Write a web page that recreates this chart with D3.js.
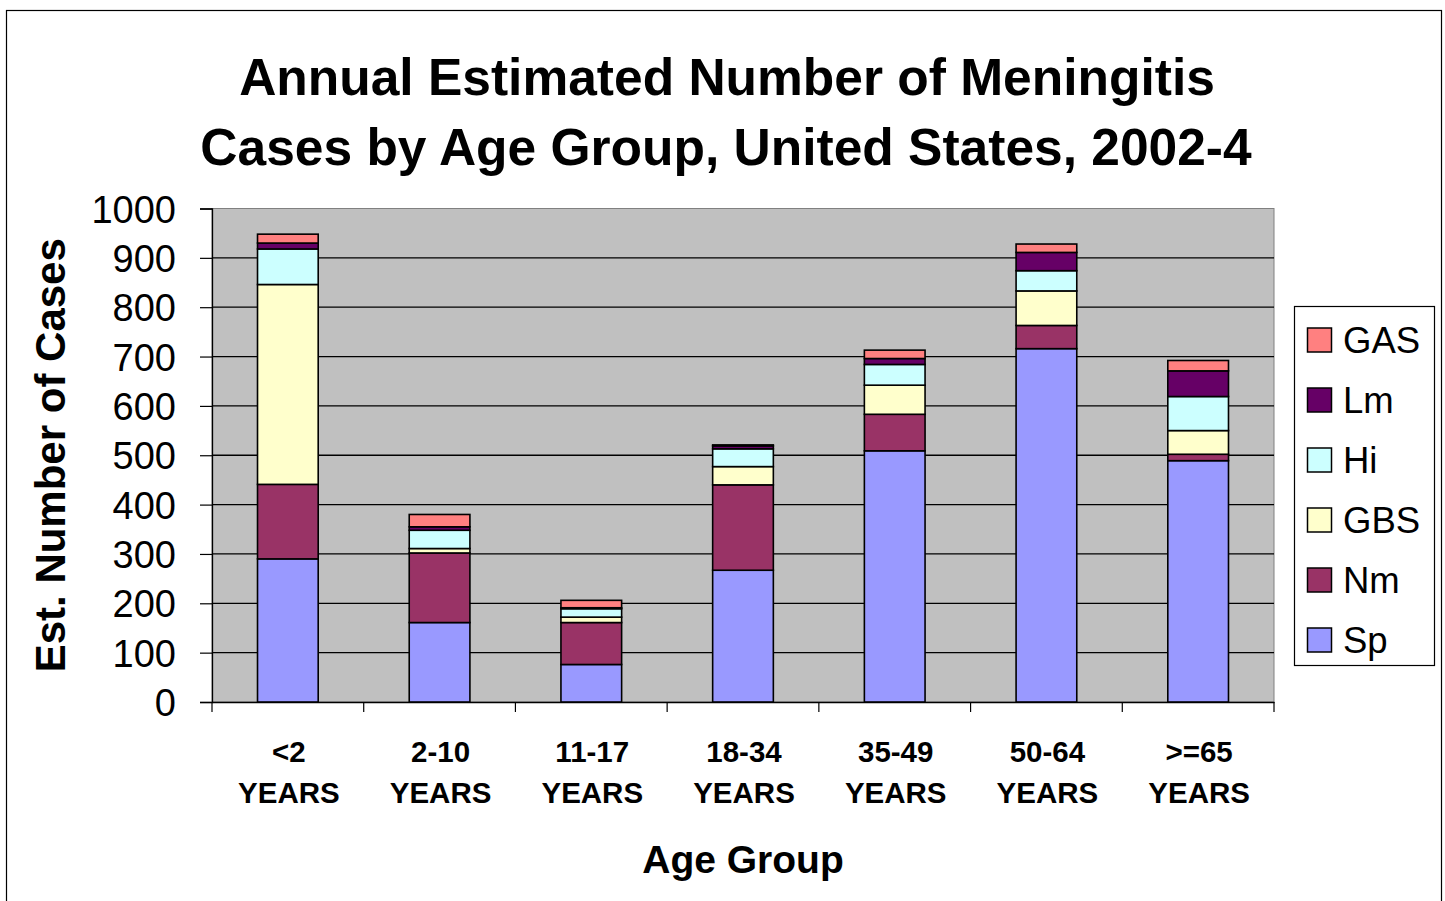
<!DOCTYPE html>
<html>
<head>
<meta charset="utf-8">
<script src="https://cdn.jsdelivr.net/npm/d3@7"></script>
<style>
  html, body { margin: 0; padding: 0; background: #fff; }
  svg { display: block; font-family: "Liberation Sans", Arial, sans-serif; }
</style>
</head>
<body>
<svg id="chart" width="1445" height="901"></svg>
<script>
// ---- data ----
const categories = ["<2|YEARS", "2-10|YEARS", "11-17|YEARS", "18-34|YEARS", "35-49|YEARS", "50-64|YEARS", ">=65|YEARS"];
const seriesNames = ["Sp", "Nm", "GBS", "Hi", "Lm", "GAS"];
const Sp  = [290, 161, 76, 267, 509, 716, 489];
const Nm  = [151, 141, 85, 173, 74, 47, 13];
const GBS = [405, 9, 11, 37, 59, 70, 48];
const Hi  = [72, 37, 17, 36, 42, 41, 69];
const Lm  = [12, 7, 2, 6, 12, 37, 52];
const GAS = [18, 25, 15, 2, 17, 17, 21];
const yTicks = [0, 100, 200, 300, 400, 500, 600, 700, 800, 900, 1000];
const titleLines = ["Annual Estimated Number of Meningitis", "Cases by Age Group, United States, 2002-4"];
const xTitle = "Age Group";
const yTitle = "Est. Number of Cases";

const seriesValues = { Sp, Nm, GBS, Hi, Lm, GAS };
const colors = { Sp: "#9999FF", Nm: "#993366", GBS: "#FFFFCC", Hi: "#CCFFFF", Lm: "#660066", GAS: "#FF8080" };

const table = categories.map((c, i) => {
  const row = { cat: c };
  seriesNames.forEach(s => row[s] = seriesValues[s][i]);
  return row;
});

const svg = d3.select("#chart");

// outer border
svg.append("rect").attr("x", 6.5).attr("y", 10.5).attr("width", 1435).attr("height", 900)
  .attr("fill", "none").attr("stroke", "#000").attr("stroke-width", 1.2);

const plot = { left: 212, right: 1274, top: 208.5, bottom: 702 };

const x = d3.scaleBand().domain(categories).range([plot.left, plot.right]).padding(0);
const y = d3.scaleLinear().domain([0, 1000]).range([plot.bottom, plot.top]);

// plot background
svg.append("rect").attr("x", plot.left).attr("y", plot.top)
  .attr("width", plot.right - plot.left).attr("height", plot.bottom - plot.top)
  .attr("fill", "#C0C0C0").attr("stroke", "#808080").attr("stroke-width", 1);

// gridlines
svg.append("g").selectAll("line").data(yTicks.filter(t => t > 0 && t < 1000)).join("line")
  .attr("x1", plot.left).attr("x2", plot.right)
  .attr("y1", d => y(d)).attr("y2", d => y(d))
  .attr("stroke", "#000").attr("stroke-width", 1.3);

// y axis
const yAxis = svg.append("g").attr("transform", `translate(${plot.left},0)`)
  .call(d3.axisLeft(y).tickValues(yTicks).tickSize(12).tickPadding(24).tickFormat(d3.format("d")));
yAxis.select(".domain").attr("stroke", "#000").attr("stroke-width", 1.3);
yAxis.selectAll(".tick line").attr("stroke", "#000").attr("stroke-width", 1.2);
yAxis.selectAll(".tick text").attr("font-size", 38).attr("fill", "#000")
  .attr("font-family", "Liberation Sans, Arial, sans-serif").attr("dy", "0.36em");

// x axis
const xAxis = svg.append("g").attr("transform", `translate(0,${plot.bottom})`)
  .call(d3.axisBottom(x).tickSize(0).tickFormat(""));
xAxis.select(".domain").attr("stroke", "#000").attr("stroke-width", 1.3);
// category boundary ticks
const bounds = categories.map(c => x(c)).concat([plot.right]);
svg.append("g").selectAll("line").data(bounds).join("line")
  .attr("x1", d => d).attr("x2", d => d)
  .attr("y1", plot.bottom).attr("y2", plot.bottom + 10)
  .attr("stroke", "#000").attr("stroke-width", 1.2);
// category labels
const lbl = svg.append("g").selectAll("text").data(categories).join("text")
  .attr("x", d => x(d) + x.bandwidth() / 2)
  .attr("text-anchor", "middle").attr("font-weight", "bold").attr("font-size", 29.5).attr("fill", "#000");
lbl.each(function(d) {
  const parts = d.split("|");
  const t = d3.select(this);
  t.append("tspan").attr("x", x(d) + x.bandwidth() / 2 + 1).attr("y", 762).text(parts[0]);
  t.append("tspan").attr("x", x(d) + x.bandwidth() / 2 + 1).attr("y", 803).text(parts[1]);
});

// stacked bars
const stack = d3.stack().keys(seriesNames)(table);
const barW = x.bandwidth() * 0.4;
svg.append("g").selectAll("g").data(stack).join("g")
  .attr("fill", d => colors[d.key])
  .selectAll("rect").data(d => d).join("rect")
  .attr("x", d => x(d.data.cat) + (x.bandwidth() - barW) / 2)
  .attr("width", barW)
  .attr("y", d => y(d[1]))
  .attr("height", d => y(d[0]) - y(d[1]))
  .attr("stroke", "#000").attr("stroke-width", 1.6);

// titles
const title = svg.append("text").attr("text-anchor", "middle").attr("font-weight", "bold")
  .attr("font-size", 51.5).attr("fill", "#000");
title.append("tspan").attr("x", 727).attr("y", 95).text(titleLines[0]);
title.append("tspan").attr("x", 726).attr("y", 165).text(titleLines[1]);

svg.append("text").attr("x", (plot.left + plot.right) / 2).attr("y", 873)
  .attr("text-anchor", "middle").attr("font-weight", "bold").attr("font-size", 39)
  .attr("fill", "#000").text(xTitle);

svg.append("text").attr("transform", `translate(65,${(plot.top + plot.bottom) / 2}) rotate(-90)`)
  .attr("text-anchor", "middle").attr("font-weight", "bold").attr("font-size", 42)
  .attr("fill", "#000").text(yTitle);

// legend
const legend = svg.append("g");
legend.append("rect").attr("x", 1294.5).attr("y", 306.5).attr("width", 140).attr("height", 359)
  .attr("fill", "#fff").attr("stroke", "#000").attr("stroke-width", 1.2);
const legendOrder = seriesNames.slice().reverse();
const items = legend.selectAll("g.item").data(legendOrder).join("g").attr("class", "item")
  .attr("transform", (d, i) => `translate(0,${340 + i * 60})`);
items.append("rect").attr("x", 1307.5).attr("y", -12).attr("width", 24).attr("height", 24)
  .attr("fill", d => colors[d]).attr("stroke", "#000").attr("stroke-width", 1.5);
items.append("text").attr("x", 1343).attr("y", 13).attr("font-size", 36.5).attr("fill", "#000").text(d => d);
</script>
</body>
</html>
